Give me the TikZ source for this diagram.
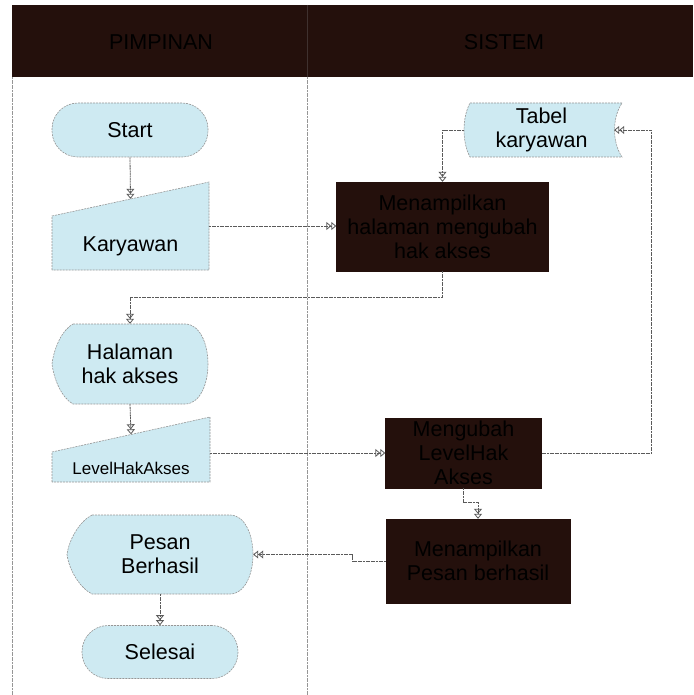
\documentclass[tikz,border=0pt]{standalone}
\usepackage{fontspec}
\setmainfont{Liberation Sans}
\usetikzlibrary{arrows.meta,calc}
\definecolor{flowfill}{RGB}{206,234,242}
\definecolor{flowedge}{RGB}{150,150,150}
\definecolor{darkfill}{RGB}{36,16,12}
\definecolor{wire}{RGB}{90,90,90}
\definecolor{laneline}{RGB}{150,150,150}
\begin{document}
\begin{tikzpicture}[x=1pt,y=-1pt,
  txt/.style={font=\fontsize{21.5}{24}\selectfont, align=center, text=black},
  smalltxt/.style={font=\fontsize{17}{20}\selectfont, align=center, text=black},
  outline/.style={fill=flowfill, draw=flowedge, line width=0.6pt, dash pattern=on 2pt off 1pt},
  frame/.style={rectangle, inner sep=0pt},
  terminal/.style={frame, outline, rounded corners=26pt, txt},
  process/.style={frame, fill=darkfill, draw=darkfill, txt},
  wire/.style={draw=wire, line width=0.8pt, dash pattern=on 2pt off 0.6pt,
    -{Triangle[open,length=5pt,width=8pt,sep=0pt]Triangle[open,length=5pt,width=8pt]}},
  lane/.style={draw=laneline, line width=0.7pt, dash pattern=on 2pt off 0.6pt}
]
\useasboundingbox (0,0) rectangle (693,695);

% swimlane header and lane borders
\fill[darkfill] (12,5) rectangle (693,77);
\draw[darkfill!70!gray, line width=0.5pt] (307,5) -- (307,77);
\node[txt] (hdrA) at (161,42) {PIMPINAN};
\node[txt] (hdrB) at (504,42) {SISTEM};
\draw[lane] (12,77) -- (12,695);
\draw[lane] (307,77) -- (307,695);

% ---- left lane ----
\node[terminal, minimum width=156pt, minimum height=54pt] (start) at (130,130) {Start};

% manual input: Karyawan
\draw[outline] (52,270) -- (52,216) -- (209,182) -- (209,270) -- cycle;
\node[frame, minimum width=157pt, minimum height=88pt] (kary) at (130.5,226) {};
\node[txt] (karyText) at (130.5,246) {Karyawan};

% display: Halaman hak akses
\draw[outline] (73,324) -- (185,324) .. controls (200,324) and (208,344) .. (208,364)
  .. controls (208,384) and (200,404) .. (185,404) -- (73,404)
  .. controls (62,398) and (54,380) .. (52,364)
  .. controls (54,348) and (62,330) .. (73,324) -- cycle;
\node[frame, minimum width=156pt, minimum height=80pt, txt] (hal) at (130,364) {Halaman\\hak akses};

% manual input: LevelHakAkses
\draw[outline] (52,482) -- (52,452) -- (210,417) -- (210,482) -- cycle;
\node[frame, minimum width=158pt, minimum height=65pt] (level) at (131,449.5) {};
\node[smalltxt] (levelText) at (131,468) {LevelHakAkses};

% display: Pesan Berhasil
\draw[outline] (92,515) -- (230,515) .. controls (245,515) and (253,535) .. (253,554.5)
  .. controls (253,574) and (245,594) .. (230,594) -- (92,594)
  .. controls (80,588) and (69,570) .. (67,554.5)
  .. controls (69,539) and (80,521) .. (92,515) -- cycle;
\node[frame, minimum width=186pt, minimum height=79pt, txt] (pesan) at (160,554.5) {Pesan\\Berhasil};

\node[terminal, minimum width=156pt, minimum height=53pt] (selesai) at (160,652) {Selesai};

% ---- right lane ----
% stored data: Tabel karyawan
\draw[outline] (470,103) -- (622,103) .. controls (612,118) and (612,142) .. (622,157)
  -- (470,157) .. controls (462,142) and (462,118) .. (470,103) -- cycle;
\node[frame, minimum width=145pt, minimum height=54pt, txt] (tabel) at (541.5,130) {Tabel\\karyawan};

\node[process, minimum width=212pt, minimum height=89pt] (box1) at (442.5,226.5) {Menampilkan\\halaman mengubah\\hak akses};
\node[process, minimum width=156pt, minimum height=70pt] (box2) at (463.5,453) {Mengubah\\LevelHak\\Akses};
\node[process, minimum width=184pt, minimum height=84pt] (box3) at (478,561) {Menampilkan\\Pesan berhasil};

% ---- connectors ----
\draw[wire] (start.south) -- ($(kary.north)+(0,17)$);
\draw[wire] (kary.east) -- (kary.east -| box1.west);
\draw[wire] ($(tabel.west)+(-5,0)$) -| (box1.north);
\draw[wire] (box1.south) -- ++(0,26) -| (hal.north);
\draw[wire] (hal.south) -- ($(level.north)+(0,17.5)$);
\draw[wire] (level.east |- box2.west) -- (box2.west);
\draw[wire] (box2.east) -- ++(110,0) |- (tabel.east);
\draw[wire] (box2.south) -- ++(0,14) -| (box3.north);
\draw[wire] (box3.west) -- ++(-33,0) |- (pesan.east);
\draw[wire] (pesan.south) -- (selesai.north);
\end{tikzpicture}
\end{document}
